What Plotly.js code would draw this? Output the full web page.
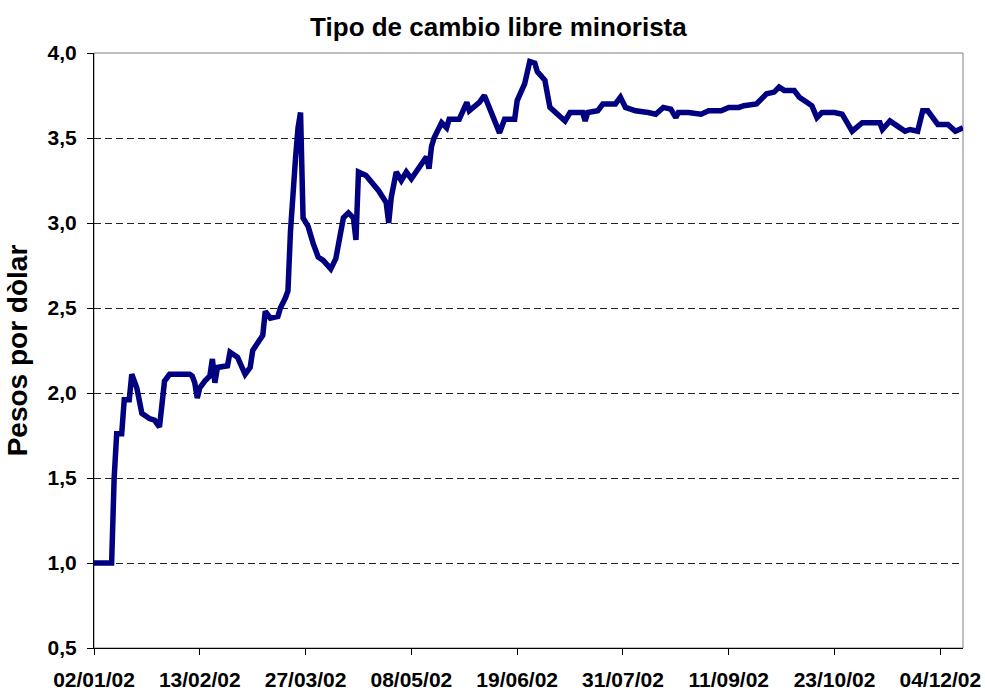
<!DOCTYPE html>
<html>
<head>
<meta charset="utf-8">
<script src="https://cdn.plot.ly/plotly-3.0.1.min.js"></script>
<style>
  html, body { margin: 0; padding: 0; background: #ffffff; }
  #chart { width: 985px; height: 691px; }
</style>
</head>
<body>
<div id="chart"></div>
<script>
// ---- Data ----
const dates = [
  '2002-01-02','2002-01-09','2002-01-10','2002-01-11','2002-01-13','2002-01-14','2002-01-16','2002-01-17','2002-01-19','2002-01-20','2002-01-21','2002-01-24','2002-01-26','2002-01-28','2002-01-29','2002-01-30',
  '2002-02-01','2002-02-09','2002-02-10','2002-02-11','2002-02-12','2002-02-13','2002-02-15','2002-02-17','2002-02-18','2002-02-19','2002-02-20','2002-02-24','2002-02-25','2002-02-28',
  '2002-03-03','2002-03-05','2002-03-06','2002-03-10','2002-03-11','2002-03-13','2002-03-16','2002-03-17','2002-03-19','2002-03-20','2002-03-21','2002-03-22','2002-03-23','2002-03-24','2002-03-25','2002-03-26','2002-03-28','2002-03-30',
  '2002-04-01','2002-04-03','2002-04-06','2002-04-08','2002-04-10','2002-04-11','2002-04-13','2002-04-15','2002-04-16','2002-04-17','2002-04-20','2002-04-25','2002-04-28','2002-04-29','2002-04-30',
  '2002-05-02','2002-05-04','2002-05-06','2002-05-08','2002-05-11','2002-05-14','2002-05-15','2002-05-16','2002-05-17','2002-05-20','2002-05-22','2002-05-23','2002-05-27','2002-05-30','2002-05-31',
  '2002-06-04','2002-06-06','2002-06-11','2002-06-12','2002-06-14','2002-06-18','2002-06-19','2002-06-22','2002-06-24','2002-06-26','2002-06-27','2002-06-30',
  '2002-07-02','2002-07-04','2002-07-08','2002-07-10','2002-07-13','2002-07-15','2002-07-16','2002-07-17','2002-07-21','2002-07-23','2002-07-28','2002-07-30',
  '2002-08-01','2002-08-05','2002-08-10','2002-08-13','2002-08-16','2002-08-19','2002-08-21','2002-08-22','2002-08-26','2002-08-31',
  '2002-09-03','2002-09-08','2002-09-11','2002-09-15','2002-09-17','2002-09-22','2002-09-26','2002-09-29',
  '2002-10-01','2002-10-03','2002-10-07','2002-10-09','2002-10-12','2002-10-14','2002-10-16','2002-10-18','2002-10-23','2002-10-26','2002-10-28','2002-10-30',
  '2002-11-03','2002-11-10','2002-11-11','2002-11-14','2002-11-17','2002-11-20','2002-11-22','2002-11-25','2002-11-27','2002-11-29',
  '2002-12-01','2002-12-03','2002-12-07','2002-12-10','2002-12-13'
];
const rates = [
  1.00,1.00,1.50,1.76,1.76,1.96,1.96,2.11,2.03,1.94,1.88,1.85,1.84,1.80,1.92,2.07,
  2.11,2.11,2.10,2.06,1.97,2.03,2.07,2.10,2.20,2.06,2.15,2.16,2.24,2.21,
  2.11,2.15,2.25,2.34,2.48,2.44,2.45,2.50,2.56,2.60,2.95,3.20,3.38,3.56,3.65,3.03,2.98,2.88,
  2.80,2.78,2.73,2.79,2.93,3.03,3.06,3.03,2.90,3.30,3.28,3.19,3.12,3.00,3.15,
  3.30,3.25,3.30,3.26,3.33,3.39,3.32,3.45,3.50,3.59,3.56,3.61,3.61,3.71,3.66,
  3.71,3.75,3.56,3.53,3.61,3.61,3.72,3.82,3.95,3.94,3.89,3.84,
  3.68,3.65,3.60,3.65,3.65,3.65,3.60,3.65,3.66,3.70,3.70,3.74,
  3.68,3.66,3.65,3.64,3.68,3.67,3.62,3.65,3.65,3.64,
  3.66,3.66,3.68,3.68,3.69,3.70,3.76,3.77,
  3.80,3.78,3.78,3.74,3.71,3.69,3.62,3.65,3.65,3.64,3.59,3.54,
  3.59,3.59,3.55,3.60,3.57,3.54,3.55,3.54,3.66,3.66,
  3.62,3.58,3.58,3.54,3.56
];
const tickDates  = ['2002-01-02','2002-02-13','2002-03-27','2002-05-08','2002-06-19','2002-07-31','2002-09-11','2002-10-23','2002-12-04'];
const tickLabels = ['02/01/02','13/02/02','27/03/02','08/05/02','19/06/02','31/07/02','11/09/02','23/10/02','04/12/02'];
const yTicks = [0.5, 1.0, 1.5, 2.0, 2.5, 3.0, 3.5, 4.0];
const titleText = 'Tipo de cambio libre minorista';
const yTitleText = 'Pesos por dòlar';

const FONT = 'Liberation Sans, Arial, Helvetica, sans-serif';

const trace = {
  x: dates,
  y: rates,
  type: 'scatter',
  mode: 'lines',
  line: { color: '#000080', width: 5.5 },
  hoverinfo: 'x+y'
};

const layout = {
  width: 985,
  height: 691,
  margin: { l: 94, r: 22, t: 53, b: 43, pad: 0 },
  paper_bgcolor: '#ffffff',
  plot_bgcolor: '#ffffff',
  separators: ',.',
  showlegend: false,
  title: {
    text: titleText,
    font: { family: FONT, size: 26, color: '#000000', weight: 'bold' },
    xref: 'container', x: 0.506, xanchor: 'center',
    yref: 'container', y: 0.961, yanchor: 'middle'
  },
  xaxis: {
    type: 'date',
    range: ['2002-01-02', '2002-12-13'],
    tickmode: 'array',
    tickvals: tickDates,
    ticktext: tickLabels,
    showgrid: false,
    zeroline: false,
    showline: true,
    linecolor: '#000000',
    linewidth: 1,
    ticks: 'outside',
    ticklen: 6,
    tickcolor: '#000000',
    tickwidth: 1,
    ticklabelstandoff: 7,
    tickfont: { family: FONT, size: 21, color: '#000000', weight: 'bold' },
    fixedrange: true
  },
  yaxis: {
    range: [0.5, 4.0],
    tickmode: 'array',
    tickvals: yTicks,
    tickformat: '.1f',
    showgrid: true,
    gridcolor: '#222222',
    gridwidth: 1,
    griddash: '7px,4px',
    zeroline: false,
    showline: true,
    linecolor: '#000000',
    linewidth: 1,
    ticks: 'outside',
    ticklen: 6,
    tickcolor: '#000000',
    tickwidth: 1,
    ticklabelstandoff: 6,
    tickfont: { family: FONT, size: 21, color: '#000000', weight: 'bold' },
    title: {
      text: yTitleText,
      font: { family: FONT, size: 28, color: '#000000', weight: 'bold' },
      standoff: 11
    },
    fixedrange: true
  },
  shapes: [{
    type: 'rect', xref: 'paper', yref: 'paper',
    x0: 0, x1: 1, y0: 0, y1: 1,
    line: { color: '#808080', width: 1 },
    layer: 'below'
  }]
};

Plotly.newPlot('chart', [trace], layout, { displayModeBar: false, staticPlot: true });
</script>
</body>
</html>
